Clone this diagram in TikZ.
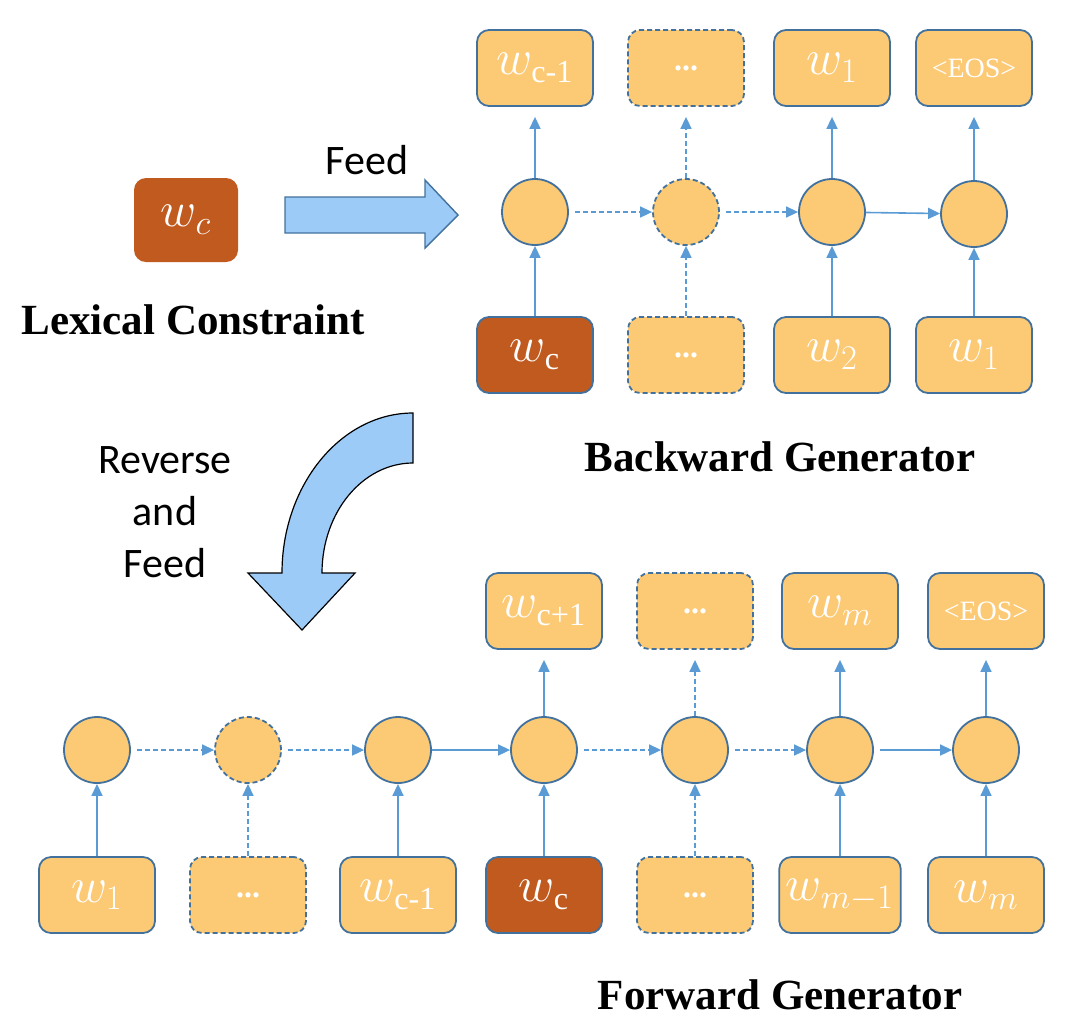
\documentclass[tikz,border=0pt]{standalone}
\usepackage{amsmath}
\usepackage{fontspec}
\setmainfont{Liberation Serif}
\newfontfamily\calibri{Carlito}
\usetikzlibrary{arrows.meta}

\definecolor{cellfill}{HTML}{FCC975}
\definecolor{cellline}{HTML}{41719C}
\definecolor{flowblue}{HTML}{5B9BD5}
\definecolor{keybrown}{HTML}{C05A1F}
\definecolor{feedfill}{HTML}{9DCBF8}

\tikzset{
    cell/.style={draw=cellline, fill=cellfill, line width=0.9pt, rounded corners=6pt,
        minimum width=58pt, minimum height=38pt, text=white, font=\fontsize{23}{27}\selectfont},
    keyword/.style={cell, fill=keybrown},
    state/.style={circle, draw=cellline, fill=cellfill, line width=0.9pt, minimum size=33pt},
    gap/.style={dash pattern=on 2.5pt off 1.5pt},
    flow/.style={draw=flowblue, line width=0.8pt, -{Triangle[length=6pt,width=5.5pt]}},
    title/.style={font=\fontsize{21.5}{26}\selectfont\bfseries},
}

\begin{document}
\begin{tikzpicture}[x=0.5pt, y=-0.5pt]
    \useasboundingbox (0,0) rectangle (1074,1024);

    % Lexical constraint and feed arrow
    \node[keyword, draw=none, minimum width=52pt, minimum height=42pt] (lex) at (186,220) {$w_c$};
    \node[title] (lexlabel) at (193,320) {Lexical Constraint};
    \draw[draw=cellline, fill=feedfill, line width=0.7pt]
        (285,197) -- (425,197) -- (425,180) -- (458,215) -- (425,248) -- (425,233) -- (285,233) -- cycle;
    \node[font=\calibri\fontsize{21}{25}\selectfont] (feed) at (367,160) {Feed};

    % Backward generator
    \node[cell] (bo1) at (535,68) {$w_{\text{c-1}}$};
    \node[cell, gap] (bo2) at (686,68) {\fontsize{16}{18}\selectfont\textbf{...}};
    \node[cell] (bo3) at (832,68) {$w_1$};
    \node[cell] (bo4) at (974,68) {\fontsize{14}{16}\selectfont <EOS>};

    \node[state] (bh1) at (535,212) {};
    \node[state, gap] (bh2) at (686,212) {};
    \node[state] (bh3) at (832,212) {};
    \node[state] (bh4) at (974,214) {};

    \node[keyword] (bi1) at (535,355) {$w_{\text{c}}$};
    \node[cell, gap] (bi2) at (686,355) {\fontsize{16}{18}\selectfont\textbf{...}};
    \node[cell] (bi3) at (832,355) {$w_2$};
    \node[cell] (bi4) at (974,355) {$w_1$};

    \node[title] (bwlabel) at (780,457) {Backward Generator};

    % Backward connectors
    \draw[flow] (bi1) -- (bh1);
    \draw[flow, gap] (bi2) -- (bh2);
    \draw[flow] (bi3) -- (bh3);
    \draw[flow] (bi4) -- (bh4);
    \draw[flow, shorten >=5pt] (bh1) -- (bo1);
    \draw[flow, gap, shorten >=5pt] (bh2) -- (bo2);
    \draw[flow, shorten >=5pt] (bh3) -- (bo3);
    \draw[flow, shorten >=5pt] (bh4) -- (bo4);
    \draw[flow, gap, shorten <=3pt] (bh1) -- (bh2);
    \draw[flow, gap, shorten <=3pt] (bh2) -- (bh3);
    \draw[flow] (bh3) -- (bh4);

    % Curved arrow between generators
    \draw[fill=feedfill, line width=0.6pt]
        (413,413) -- (413,463) .. controls (363,463) and (322,512) .. (322,573)
        -- (355,573) -- (302,630) -- (248,573) -- (282,573)
        .. controls (282,485) and (341,413) .. (413,413) -- cycle;
    \node[align=center, font=\calibri\fontsize{21}{26}\selectfont] (revfeed) at (165,512) {Reverse\\and\\Feed};

    % Forward generator
    \node[state] (fh1) at (97,750) {};
    \node[state, gap] (fh2) at (248,750) {};
    \node[state] (fh3) at (398,750) {};
    \node[state] (fh4) at (544,750) {};
    \node[state] (fh5) at (695,750) {};
    \node[state] (fh6) at (840,750) {};
    \node[state] (fh7) at (986,750) {};

    \node[cell] (fi1) at (97,895) {$w_1$};
    \node[cell, gap] (fi2) at (248,895) {\fontsize{16}{18}\selectfont\textbf{...}};
    \node[cell] (fi3) at (398,895) {$w_{\text{c-1}}$};
    \node[keyword] (fi4) at (544,895) {$w_{\text{c}}$};
    \node[cell, gap] (fi5) at (695,895) {\fontsize{16}{18}\selectfont\textbf{...}};
    \node[cell] (fi6) at (840,895) {$w_{m-1}$};
    \node[cell] (fi7) at (986,895) {$w_m$};

    \node[cell] (fo4) at (544,611) {$w_{\text{c+1}}$};
    \node[cell, gap] (fo5) at (695,611) {\fontsize{16}{18}\selectfont\textbf{...}};
    \node[cell] (fo6) at (840,611) {$w_m$};
    \node[cell] (fo7) at (986,611) {\fontsize{14}{16}\selectfont <EOS>};

    \node[title] (fwlabel) at (780,995) {Forward Generator};

    % Forward connectors
    \draw[flow] (fi1) -- (fh1);
    \draw[flow, gap] (fi2) -- (fh2);
    \draw[flow] (fi3) -- (fh3);
    \draw[flow] (fi4) -- (fh4);
    \draw[flow, gap] (fi5) -- (fh5);
    \draw[flow] (fi6) -- (fh6);
    \draw[flow] (fi7) -- (fh7);
    \draw[flow, shorten >=5pt] (fh4) -- (fo4);
    \draw[flow, gap, shorten >=5pt] (fh5) -- (fo5);
    \draw[flow, shorten >=5pt] (fh6) -- (fo6);
    \draw[flow, shorten >=5pt] (fh7) -- (fo7);
    \draw[flow, gap, shorten <=3pt] (fh1) -- (fh2);
    \draw[flow, gap, shorten <=3pt] (fh2) -- (fh3);
    \draw[flow] (fh3) -- (fh4);
    \draw[flow, gap, shorten <=3pt] (fh4) -- (fh5);
    \draw[flow, gap, shorten <=3pt] (fh5) -- (fh6);
    \draw[flow, shorten <=3pt] (fh6) -- (fh7);
\end{tikzpicture}
\end{document}
